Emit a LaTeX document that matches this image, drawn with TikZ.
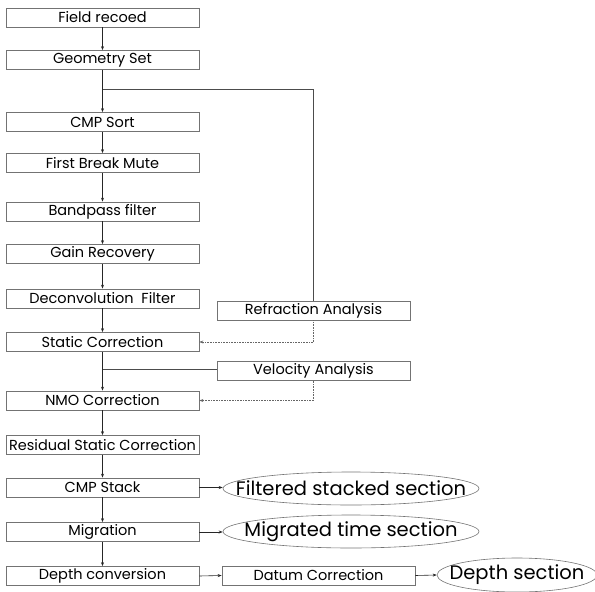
\documentclass[tikz,border=0pt]{standalone}
\usepackage{fontspec}
\setmainfont{Poppins}
\usetikzlibrary{shapes.geometric,arrows.meta}
\tikzset{
  box/.style={draw=black!55, line width=0.7pt, rectangle, minimum width=193pt, minimum height=19pt, inner sep=0pt, font=\fontsize{14.5}{15}\selectfont},
  oval/.style={draw=black!55, line width=0.6pt, ellipse, minimum width=256pt, minimum height=33pt, inner sep=0pt, font=\fontsize{19.5}{20}\selectfont},
  arr/.style={draw=black!85, line width=0.6pt, -{Stealth[length=4pt,width=3pt]}},
  lin/.style={draw=black!70, line width=0.6pt},
  dot/.style={draw=black!60, line width=0.6pt, densely dotted, -{Stealth[length=4pt,width=3pt]}}
}
\begin{document}
\begin{tikzpicture}[x=1pt,y=-1pt]
\useasboundingbox (0,0) rectangle (595,592);
\node[box] (field) at (102.5,17.5) {Field recoed};
\node[box] (geo) at (102.5,60) {Geometry Set};
\node[box] (cmp) at (102.5,122) {CMP Sort};
\node[box] (fbm) at (102.5,163) {First Break Mute};
\node[box] (band) at (102.5,211.5) {Bandpass filter};
\node[box] (gain) at (102.5,254) {Gain Recovery};
\node[box] (decon) at (102.5,298.5) {Deconvolution\ \ Filter};
\node[box] (static) at (102.5,342) {Static Correction};
\node[box] (nmo) at (102.5,400.5) {NMO Correction};
\node[box] (resid) at (102.5,445) {Residual Static Correction};
\node[box] (stack) at (102.5,487.5) {CMP Stack};
\node[box] (migr) at (102.5,532) {Migration};
\node[box] (depth) at (102.5,576) {Depth conversion};
\node[box] (refr) at (313.5,310.5) {Refraction Analysis};
\node[box] (velo) at (313.5,371) {Velocity Analysis};
\node[box] (datum) at (318.5,575.5) {Datum Correction};
\node[oval] (ofilt) at (351,488.5) {\makebox[0pt]{Filtered stacked section}};
\node[oval] (omigr) at (351,531.5) {\makebox[0pt]{Migrated time section}};
\node[oval, minimum width=160pt, minimum height=34pt] (odepth) at (517,575) {\makebox[0pt]{Depth section}};
\coordinate (b1) at (102.5,89);
\coordinate (b2) at (102.5,369);
\draw[arr] (field) -- (geo);
\draw[arr] (geo) -- (cmp);
\draw[lin] (b1) -| (refr.north);
\draw[arr] (cmp) -- (fbm);
\draw[arr] (fbm) -- (band);
\draw[arr] (band) -- (gain);
\draw[arr] (gain) -- (decon);
\draw[arr] (decon) -- (static);
\draw[dot] (refr.south) |- (static.east);
\draw[arr] (static) -- (nmo);
\draw[lin] (b2) -- (b2 -| velo.west);
\draw[dot] (velo.south) |- (nmo.east);
\draw[arr] (nmo) -- (resid);
\draw[arr] (resid) -- (stack);
\draw[arr] (stack) -- (migr);
\draw[arr] (migr) -- (depth);
\draw[arr] (stack.east) -- (ofilt.west |- stack.east);
\draw[arr] (migr.east) -- (omigr.west |- migr.east);
\draw[arr] (depth.east) -- (datum.west);
\draw[arr] (datum.east) -- (odepth.west);
\end{tikzpicture}
\end{document}
